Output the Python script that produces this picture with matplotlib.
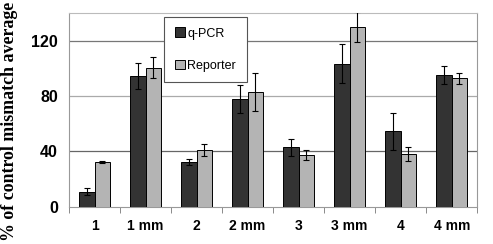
import matplotlib
matplotlib.use("Agg")
import matplotlib.pyplot as plt
import numpy as np

categories = ["1", "1 mm", "2", "2 mm", "3", "3 mm", "4", "4 mm"]
qpcr = [11, 94.5, 32.5, 78, 43, 103.5, 54.5, 95]
qpcr_err = [2.5, 9.5, 2, 10, 6, 14, 13.5, 6.5]
reporter = [32.3, 100.5, 41, 83, 37.5, 130, 38, 92.8]
reporter_err = [0.8, 7.5, 4.3, 13.5, 3.3, 11, 5, 4]
yticks = [0, 40, 80, 120]

fig = plt.figure(figsize=(4.93, 2.44), dpi=100)
ax = fig.add_axes([0.140, 0.152, 0.828, 0.795])

x = np.arange(len(categories))
w = 0.3
ax.bar(x - w/2, qpcr, w, color="#333333", edgecolor="black", linewidth=0.7,
       yerr=qpcr_err, error_kw=dict(ecolor="black", elinewidth=0.8, capsize=2.5, capthick=0.8),
       label="q-PCR", zorder=3)
ax.bar(x + w/2, reporter, w, color="#b4b4b4", edgecolor="black", linewidth=0.7,
       yerr=reporter_err, error_kw=dict(ecolor="black", elinewidth=0.8, capsize=2.5, capthick=0.8),
       label="Reporter", zorder=3)

ax.set_xlim(-0.5, len(categories) - 0.5)
ax.set_ylim(0, 140)
ax.set_yticks(yticks)
ax.set_yticklabels([str(v) for v in yticks], fontsize=11.5, fontweight="bold", family="Liberation Sans")
ax.set_xticks(x)
ax.set_xticklabels(categories, fontsize=10, fontweight="bold", family="Liberation Sans")
ax.tick_params(axis="x", length=0, pad=9)
ax.set_xticks(np.arange(len(categories) + 1) - 0.5, minor=True)
ax.tick_params(axis="x", which="minor", length=4, direction="out", color="#777777")
ax.tick_params(axis="y", length=0, pad=8)

grid_colors = {40: "#666666", 80: "#aaaaaa", 120: "#777777"}
for v in yticks[1:]:
    ax.axhline(v, color=grid_colors[v], linewidth=0.9, zorder=1)

for s in ["left", "bottom", "right", "top"]:
    ax.spines[s].set_color("#999999")
    ax.spines[s].set_linewidth(0.8)
ax.spines["top"].set_color("#bbbbbb")

fig.text(10 / 493, 1 - 121 / 244, "% of control mismatch average", rotation=90,
         ha="center", va="center", fontsize=12.9, fontweight="bold",
         family="Liberation Serif")

leg = ax.legend(loc="upper left", bbox_to_anchor=(0.233, 0.98), fontsize=9,
                frameon=True, fancybox=False, edgecolor="#555555", framealpha=1,
                handlelength=0.8, handleheight=0.8, handletextpad=0.2,
                labelspacing=1.6, borderpad=0.85, borderaxespad=0)
leg.get_frame().set_linewidth(0.8)
for t in leg.get_texts():
    t.set_family("Liberation Sans")

fig.savefig("out.png", dpi=100)
